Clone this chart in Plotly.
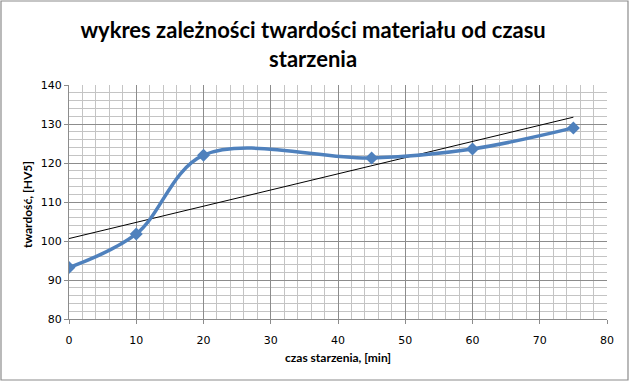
import numpy as np
import plotly.graph_objects as go

czas = [0, 10, 20, 45, 60, 75]
twardosc = [93.2, 101.8, 122.0, 121.3, 123.6, 129.0]
x_ticks = [0, 10, 20, 30, 40, 50, 60, 70, 80]
y_ticks = [80, 90, 100, 110, 120, 130, 140]

slope, intercept = np.polyfit(czas, twardosc, 1)
trend_x = [min(czas), max(czas)]
trend_y = [intercept + slope * v for v in trend_x]

fig = go.Figure()
fig.add_trace(go.Scatter(
    x=trend_x, y=trend_y, mode="lines",
    line=dict(color="black", width=1), hoverinfo="skip", showlegend=False))
fig.add_trace(go.Scatter(
    x=czas, y=twardosc, mode="lines+markers",
    line=dict(color="#4F81BD", width=3.5, shape="spline", smoothing=1.0),
    marker=dict(symbol="diamond", size=10, color="#4F81BD"),
    showlegend=False))

W, H = 630, 382
L, R, T, B = 69, 23, 85, 63
pw, ph = W - L - R, H - T - B

def px_x(p):
    return (p - L) / pw

def px_y(p):
    return (H - B - p) / ph

axis_font = dict(family="DejaVu Sans", size=11, color="#000000")
title_font = dict(family="Lato", size=12, color="black", weight="bold")
fig.update_layout(
    width=W, height=H,
    margin=dict(l=L, r=R, t=T, b=B, autoexpand=False),
    paper_bgcolor="white", plot_bgcolor="white",
    title=dict(text="wykres zależności twardości materiału od czasu<br>starzenia",
               x=0.497, xanchor="center", xref="container", y=1 - 38 / H, yanchor="middle",
               yref="container",
               font=dict(family="Lato", size=22, color="black", weight="bold")),
    xaxis=dict(range=[0, 80], tickvals=x_ticks, ticktext=[str(v) for v in x_ticks],
               automargin=False, ticklabelstandoff=7,
               showgrid=True, gridcolor="#8c8c8c", gridwidth=1,
               minor=dict(dtick=2, showgrid=True, gridcolor="#c4c4c4", gridwidth=1),
               showline=True, linecolor="#8c8c8c", ticks="outside", ticklen=4,
               tickcolor="#8c8c8c", tickfont=axis_font, zeroline=False),
    yaxis=dict(range=[80, 140], tickvals=y_ticks, ticktext=[str(v) for v in y_ticks],
               automargin=False,
               showgrid=True, gridcolor="#8c8c8c", gridwidth=1,
               minor=dict(dtick=2, showgrid=True, gridcolor="#c4c4c4", gridwidth=1),
               showline=True, linecolor="#8c8c8c", ticks="outside", ticklen=4,
               tickcolor="#8c8c8c", tickfont=axis_font, zeroline=False),
    annotations=[
        dict(text="czas starzenia, [min]", xref="paper", yref="paper",
             x=px_x(338), y=px_y(357), xanchor="center", yanchor="middle",
             showarrow=False, font=title_font),
        dict(text="twardość, [HV5]", xref="paper", yref="paper",
             x=px_x(27), y=px_y(205), xanchor="center", yanchor="middle",
             textangle=-90, showarrow=False, font=title_font),
    ],
    shapes=[dict(type="rect", xref="paper", yref="paper",
                 x0=px_x(1), x1=px_x(628), y0=px_y(380), y1=px_y(1),
                 line=dict(color="#8c8c8c", width=1.2), fillcolor="rgba(0,0,0,0)",
                 layer="below")],
)

fig.write_html("out.html", config={"displayModeBar": False},
               post_script="document.body.style.margin='0';document.body.style.overflow='hidden';")
